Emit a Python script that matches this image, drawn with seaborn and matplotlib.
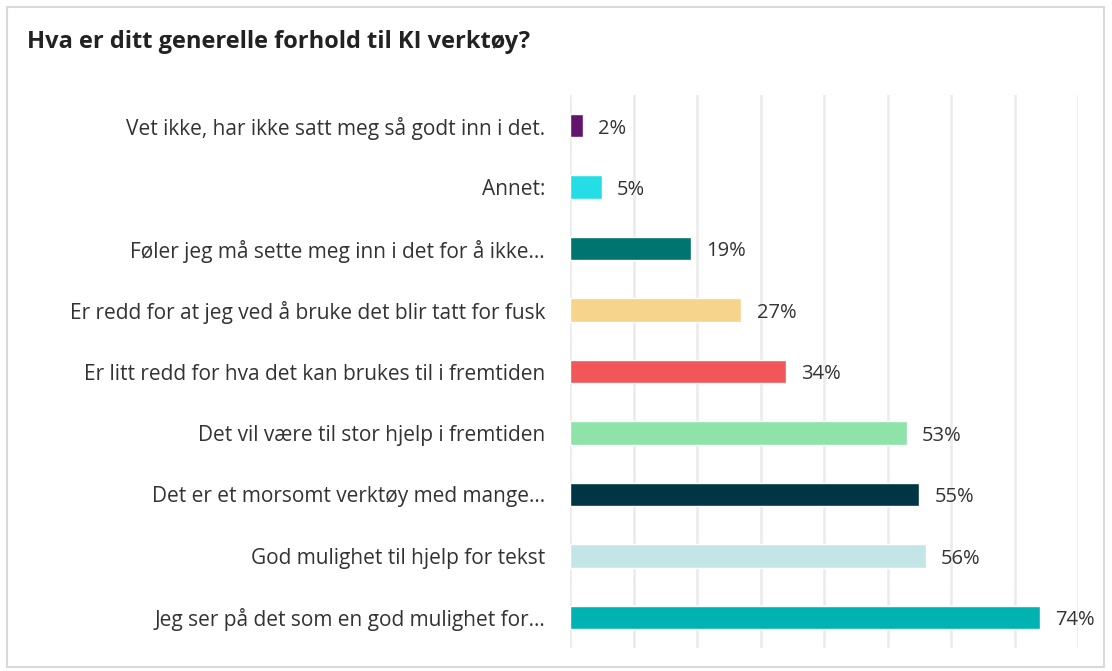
import matplotlib
matplotlib.use('Agg')
import matplotlib.pyplot as plt
import pandas as pd
import seaborn as sns
from matplotlib.patches import Rectangle

# survey answers, top to bottom as shown
answers = [
    'Vet ikke, har ikke satt meg så godt inn i det.',
    'Annet:',
    'Føler jeg må sette meg inn i det for å ikke...',
    'Er redd for at jeg ved å bruke det blir tatt for fusk',
    'Er litt redd for hva det kan brukes til i fremtiden',
    'Det vil være til stor hjelp i fremtiden',
    'Det er et morsomt verktøy med mange...',
    'God mulighet til hjelp for tekst',
    'Jeg ser på det som en god mulighet for...',
]
percent = [2, 5, 19, 27, 34, 53, 55, 56, 74]
bar_colors = ['#63146e', '#25dde5', '#00746f', '#f6d48b', '#f15658',
              '#8ee3a8', '#003545', '#c4e5e6', '#00b3b3']

df = pd.DataFrame({'answer': answers, 'percent': percent})

sns.set_theme(style='white')
plt.rcParams['font.family'] = ['Open Sans', 'DejaVu Sans']

fig = plt.figure(figsize=(11.12, 6.71), dpi=100)
ax = fig.add_axes([570 / 1112, 1 - 648 / 671, 508 / 1112, (648 - 95) / 671])

sns.barplot(data=df, x='percent', y='answer', hue='answer', palette=bar_colors,
            legend=False, width=0.38, ax=ax, saturation=1)

ax.set_xlim(0, 80)
ax.set_ylim(8.5, -0.5)
ax.set_xticks(range(0, 81, 10))
ax.xaxis.grid(True, color='#ececec', linewidth=2)
ax.set_axisbelow(True)
ax.tick_params(axis='x', labelbottom=False, length=0)
ax.tick_params(axis='y', length=0, pad=18, labelsize=15, labelcolor='#333333')
ax.set_xlabel('')
ax.set_ylabel('')
for s in ax.spines.values():
    s.set_visible(False)

for i, v in enumerate(percent):
    ax.annotate(f'{v}%', (v, i), xytext=(11, -2), textcoords='offset points',
                ha='left', va='center', fontsize=14.5, color='#333333')

fig.text(27 / 1112, 1 - 42 / 671, 'Hva er ditt generelle forhold til KI verktøy?',
         fontsize=17, fontweight='bold', color='#222222', va='center', ha='left')

fig.patches.append(Rectangle((7 / 1112, 4 / 671), 1097 / 1112, 660 / 671,
                             transform=fig.transFigure, fill=False,
                             edgecolor='#d9d9d9', linewidth=1.5))

fig.savefig('out.png', dpi=100, facecolor='white')
